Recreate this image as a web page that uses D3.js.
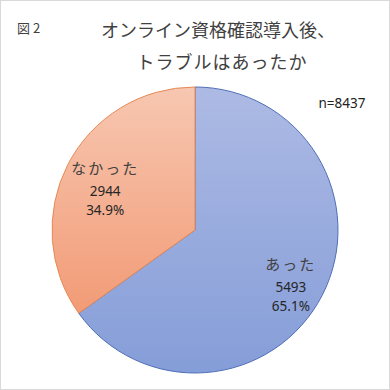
<!DOCTYPE html>
<html lang="ja">
<head>
<meta charset="UTF-8">
<title>図2</title>
<script src="https://d3js.org/d3.v7.min.js"></script>
<style>
  body { margin: 0; background: #fff; }
  text { font-family: "Noto Sans CJK JP", "Noto Sans", sans-serif; }
  text.num { font-family: "Noto Sans", "Liberation Sans", sans-serif; }
</style>
</head>
<body>
<script>
    var categories = ["あった", "なかった"];
    var counts = [5493, 2944];
    var percents = ["65.1%", "34.9%"];
    var total = 8437;

    var width = 390, height = 390;
    var cx = 195, cy = 230, radius = 143;

    var svg = d3.select("body").append("svg")
        .attr("width", width)
        .attr("height", height);

    var defs = svg.append("defs");
    var gradBlue = defs.append("linearGradient").attr("id", "gBlue")
        .attr("x1", 0).attr("y1", 0).attr("x2", 0).attr("y2", 1);
    gradBlue.append("stop").attr("offset", "0%").attr("stop-color", "#adbae4");
    gradBlue.append("stop").attr("offset", "100%").attr("stop-color", "#859dd8");
    var gradOrange = defs.append("linearGradient").attr("id", "gOrange")
        .attr("x1", 0).attr("y1", 0).attr("x2", 0).attr("y2", 1);
    gradOrange.append("stop").attr("offset", "0%").attr("stop-color", "#f7c7b1");
    gradOrange.append("stop").attr("offset", "100%").attr("stop-color", "#f29b76");

    var fills = ["url(#gBlue)", "url(#gOrange)"];
    var strokes = ["#4f6fb8", "#e58a55"];

    // border
    svg.append("rect")
        .attr("x", 0.5).attr("y", 0.5)
        .attr("width", width - 1).attr("height", height - 1)
        .attr("fill", "#fff")
        .attr("stroke", "#d9d9d9");

    var pie = d3.pie().sort(null).value(function (d) { return d; });
    var arc = d3.arc().innerRadius(0).outerRadius(radius);
    var arcs = pie(counts);

    var g = svg.append("g").attr("transform", "translate(" + cx + "," + cy + ")");
    g.selectAll("path")
        .data(arcs)
        .enter()
        .append("path")
        .attr("d", arc)
        .attr("fill", function (d, i) { return fills[i]; })
        .attr("stroke", function (d, i) { return strokes[i]; })
        .attr("stroke-width", 1);

    // labels sit a bit below the centroid, like excel does
    var labelArc = d3.arc().innerRadius(radius * 0.73).outerRadius(radius * 0.73);
    var lg = g.selectAll("g.lbl")
        .data(arcs)
        .enter()
        .append("g")
        .attr("class", "lbl")
        .attr("transform", function (d) {
            var c = labelArc.centroid(d);
            return "translate(" + (c[0] + 3) + "," + (c[1] + 14) + ")";
        });
    lg.append("text")
        .attr("text-anchor", "middle")
        .attr("y", -22)
        .attr("font-size", 15)
        .attr("letter-spacing", 2)
        .attr("fill", "#404040")
        .text(function (d, i) { return categories[i]; });
    lg.append("text")
        .attr("class", "num")
        .attr("text-anchor", "middle")
        .attr("y", 0)
        .attr("font-size", 13.5)
        .attr("fill", "#262626")
        .text(function (d, i) { return counts[i]; });
    lg.append("text")
        .attr("class", "num")
        .attr("text-anchor", "middle")
        .attr("y", 19)
        .attr("font-size", 13.5)
        .attr("fill", "#262626")
        .text(function (d, i) { return percents[i]; });

    svg.append("text")
        .attr("x", 17).attr("y", 33)
        .attr("font-size", 13)
        .attr("letter-spacing", 3)
        .attr("fill", "#404040")
        .text("図2");

    svg.append("text")
        .attr("x", 218).attr("y", 37)
        .attr("text-anchor", "middle")
        .attr("font-size", 18)
        .attr("fill", "#404040")
        .text("オンライン資格確認導入後、");
    svg.append("text")
        .attr("x", 222).attr("y", 69)
        .attr("text-anchor", "middle")
        .attr("font-size", 18)
        .attr("letter-spacing", 1)
        .attr("fill", "#404040")
        .text("トラブルはあったか");

    svg.append("text")
        .attr("class", "num")
        .attr("x", 342).attr("y", 108)
        .attr("text-anchor", "middle")
        .attr("font-size", 13.5)
        .attr("fill", "#222")
        .text("n=" + total);
</script>
</body>
</html>
